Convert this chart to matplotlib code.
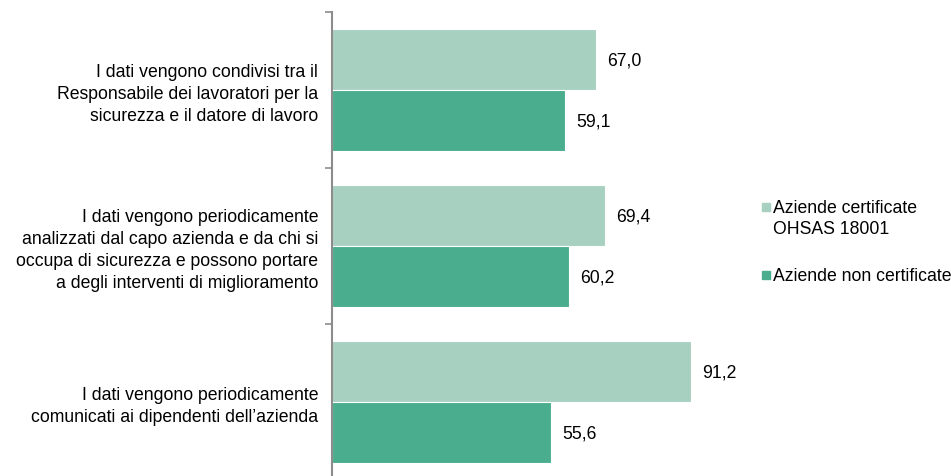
import matplotlib.pyplot as plt
from matplotlib.patches import Rectangle
import numpy as np

plt.rcParams['font.family'] = ['Liberation Sans', 'DejaVu Sans']

categories = [
    "I dati vengono condivisi tra il\nResponsabile dei lavoratori per la\nsicurezza e il datore di lavoro",
    "I dati vengono periodicamente\nanalizzati dal capo azienda e da chi si\noccupa di sicurezza e possono portare\na degli interventi di miglioramento",
    "I dati vengono periodicamente\ncomunicati ai dipendenti dell\u2019azienda",
]
certificate = [67.0, 69.4, 91.2]
non_certificate = [59.1, 60.2, 55.6]
series_names = ["Aziende certificate\nOHSAS 18001", "Aziende non certificate"]

LIGHT = "#a8d0c0"
DARK = "#4aad8e"
W, H = 951, 476
FS = 12.7

fig = plt.figure(figsize=(W / 100, H / 100), dpi=100)
# axes: x=0 at 332px, 3.94 px per unit; top at 12px, 156px per category
left, top = 332, 12
ax = fig.add_axes([left / W, (H - top - 468) / H, 394 / W, 468 / H])

y = np.arange(len(categories))
bh = 61 / 156
ax.barh(y - bh / 2, certificate, height=bh, color=LIGHT, edgecolor="white", linewidth=0.8)
ax.barh(y + bh / 2, non_certificate, height=bh, color=DARK, edgecolor="white", linewidth=0.8)

for yi, v in zip(y - bh / 2, certificate):
    ax.text(v + 2.8, yi + 0.01, f"{v:.1f}".replace(".", ","), va="center", ha="left", fontsize=FS)
for yi, v in zip(y + bh / 2, non_certificate):
    ax.text(v + 2.8, yi + 0.01, f"{v:.1f}".replace(".", ","), va="center", ha="left", fontsize=FS)

ax.set_xlim(0, 100)
ax.set_ylim(2.5, -0.5)
ax.set_yticks(y)
ax.set_yticklabels(categories, fontsize=FS, linespacing=1.4)
ax.set_yticks(np.arange(-0.5, 3.0, 1.0), minor=True)
ax.tick_params(axis="y", which="major", length=0, pad=10)
ax.tick_params(axis="y", which="minor", length=5, color="#8c8c8c", width=1.2)
ax.set_xticks([])
for s in ["top", "right", "bottom"]:
    ax.spines[s].set_visible(False)
ax.spines["left"].set_color("#8c8c8c")
ax.spines["left"].set_linewidth(1.5)

# legend drawn by hand
leg_y = [207, 275]
for ly, name, col in zip(leg_y, series_names, [LIGHT, DARK]):
    fig.patches.append(Rectangle((762 / W, (H - ly - 4) / H), 8 / W, 8 / H,
                                 transform=fig.transFigure, color=col))
    fig.text(773 / W, (H - ly + 7) / H, name, va="top", ha="left", fontsize=FS, linespacing=1.3)

fig.savefig("out.png", dpi=100)
